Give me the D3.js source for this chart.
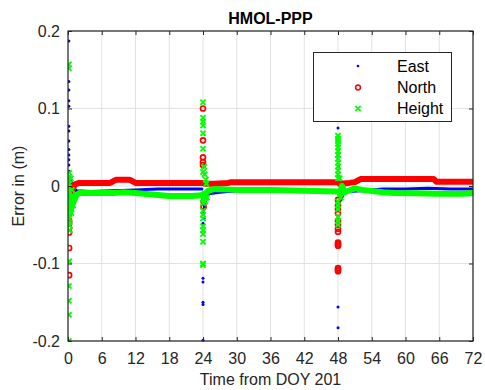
<!DOCTYPE html>
<html><head><meta charset="utf-8">
<script src="https://cdn.jsdelivr.net/npm/d3@7"></script>
<style>
body{margin:0;background:#fff;}
text{font-family:"Liberation Sans",Arial,Helvetica,sans-serif;}
</style></head>
<body><svg id="c" width="485" height="390"></svg>
<script>
// ---- data ----
const xTicks = [0,6,12,18,24,30,36,42,48,54,60,66,72];
const yTicks = [-0.2,-0.1,0,0.1,0.2];
const yTickLabels = ["-0.2","-0.1","0","0.1","0.2"];
const seriesNames = ["East","North","Height"];

// converged bands [hour, error m]; null breaks the band at re-initialisation
const eastBand = [
  [0.4,0.01],[0.8,-0.003],[1.5,-0.006],[4,-0.007],[8,-0.006],[12,-0.005],[16,-0.004],[20,-0.004],[23.8,-0.004],
  null,
  [24.2,-0.03],[24.5,-0.015],[25,-0.01],[26,-0.009],[27,-0.008],[30,-0.006],[36,-0.006],[42,-0.006],[47.8,-0.007],
  null,
  [48.3,-0.02],[49,-0.01],[50,-0.007],[52,-0.006],[56,-0.004],[60,-0.004],[64,-0.003],[68,-0.004],[72,-0.004]
];
const northBand = [
  [0.5,-0.02],[0.8,-0.005],[1.2,0.002],[2,0.004],[7.5,0.004],[8.5,0.008],[11,0.008],[12,0.004],[23.8,0.004],
  null,
  [24.3,0.003],[26,0.003],[28.5,0.004],[29,0.005],[47.8,0.005],
  null,
  [48.3,0.003],[50,0.004],[51,0.005],[52,0.009],[65,0.009],[65.5,0.0055],[72,0.0055]
];
const heightBand = [
  [0.5,-0.03],[1,-0.02],[1.5,-0.012],[2,-0.009],[5,-0.009],[8,-0.009],[10,-0.008],[12,-0.009],[15,-0.011],[18,-0.013],[22,-0.013],[23.8,-0.012],
  null,
  [24.3,-0.01],[25,-0.006],[26,-0.004],[30,-0.005],[36,-0.005],[42,-0.006],[47.8,-0.007],
  null,
  [48.3,-0.01],[48.7,0.0],[49.2,-0.008],[51,-0.003],[52.3,-0.005],[56,-0.008],[58,-0.009],[62,-0.0095],[66,-0.010],[70,-0.010],[72,-0.009]
];

// outlier epochs around each re-initialisation [hour, error m]
const eastSpikes = [
  [0.15,0.187],[0.15,0.135],[0.15,0.124],[0.15,0.110],[0.15,0.103],[0.15,0.077],[0.15,0.071],[0.15,0.058],
  [0.15,0.047],[0.15,0.040],[0.15,0.034],[0.15,0.027],[0.2,0.019],[0.3,0.012],
  [24.0,-0.048],[24.0,-0.119],[24.0,-0.124],[24.0,-0.150],[24.0,-0.153],[24.0,-0.199],[24.1,-0.035],[24.2,-0.042],
  [48.0,0.075],[48.0,0.059],[48.0,0.040],[48.1,0.025],[48.0,-0.156],[48.0,-0.183],[48.6,-0.01]
];
const northSpikes = [
  [0.2,-0.015],[0.2,-0.025],[0.2,-0.035],[0.2,-0.045],[0.2,-0.048],[0.2,-0.054],[0.2,-0.060],[0.2,-0.080],[0.2,-0.115],[0.3,-0.005],
  [24.0,0.100],[24.0,0.059],[24.0,0.037],[24.0,0.031],[24.0,0.027],[24.1,-0.020],[24.1,-0.027],
  [48.0,-0.018],[48.0,-0.025],[48.0,-0.030],[48.0,-0.035],[48.0,-0.045],[48.0,-0.050],[48.0,-0.055],[48.0,-0.059],
  [48.0,-0.073],[48.0,-0.075],[48.0,-0.077],[48.0,-0.106],[48.0,-0.108],[48.0,-0.110]
];
const heightSpikes = [
  [0.15,0.157],[0.15,0.152],[0.2,0.017],[0.2,0.012],[0.2,0.008],[0.2,0.003],[0.2,-0.002],[0.2,-0.007],[0.2,-0.012],
  [0.2,-0.017],[0.2,-0.022],[0.2,-0.027],[0.2,-0.032],[0.2,-0.037],[0.2,-0.042],[0.2,-0.047],[0.2,-0.05],
  [0.3,-0.057],[0.2,-0.097],[0.15,-0.129],[0.15,-0.148],[0.15,-0.166],[0.15,-0.2],
  [0.5,0.01],[0.7,-0.005],[0.9,-0.025],[1.1,-0.015],[0.6,-0.035],[0.4,-0.02],[0.8,-0.012],
  [24.0,0.108],[24.0,0.088],[24.0,0.083],[24.0,0.078],[24.0,0.068],
  [24.0,0.048],[24.0,0.018],
  [24.0,-0.012],[24.0,-0.017],[24.0,-0.022],[24.0,-0.032],[24.0,-0.037],[24.0,-0.042],[24.0,-0.052],[24.0,-0.057],
  [24.0,-0.062],[24.0,-0.072],[24.0,-0.100],[24.0,-0.102],
  [24.3,0.015],[24.5,0.008],[24.4,-0.02],[24.7,-0.015],[24.2,0.025],[24.3,-0.01],[24.6,0.003],
  [48.0,0.065],[48.0,0.061],[48.0,0.058],[48.0,0.054],[48.0,0.050],[48.0,0.045],[48.0,0.040],[48.0,0.035],[48.0,0.030],
  [48.0,0.025],[48.0,0.020],[48.0,0.015],[48.0,0.010],
  [48.0,-0.020],[48.0,-0.025],[48.0,-0.030],[48.0,-0.040],[48.0,-0.045],[48.0,-0.050],[48.3,0.01],[48.5,-0.015]
];

// ---- drawing ----
const svg = d3.select("#c");
const L=68, R=473, T=31, B=341;
const x = d3.scaleLinear([0,72],[L,R]);
const y = d3.scaleLinear([-0.2,0.2],[B,T]);
const ink = "#262626";

// grid
const g = svg.append("g");
g.selectAll("line.gx").data(xTicks).join("line")
  .attr("x1",d=>x(d)).attr("x2",d=>x(d)).attr("y1",T).attr("y2",B)
  .attr("stroke","#e2e2e2").attr("stroke-width",1);
g.selectAll("line.gy").data(yTicks).join("line")
  .attr("y1",d=>y(d)).attr("y2",d=>y(d)).attr("x1",L).attr("x2",R)
  .attr("stroke","#e2e2e2").attr("stroke-width",1);

svg.append("clipPath").attr("id","clip").append("rect")
  .attr("x",L).attr("y",T-2).attr("width",R-L).attr("height",B-T+3);
const plot = svg.append("g").attr("clip-path","url(#clip)");

const line = d3.line().defined(d=>d!==null).x(d=>x(d[0])).y(d=>y(d[1]));

function band(data,color,w){
  plot.append("path").datum(data).attr("d",line)
    .attr("fill","none").attr("stroke",color).attr("stroke-width",w)
    .attr("stroke-linejoin","round").attr("stroke-linecap","round");
}
function dots(data,color){
  plot.append("g").selectAll("circle").data(data).join("circle")
    .attr("cx",d=>x(d[0])).attr("cy",d=>y(d[1])).attr("r",1.5).attr("fill",color);
}
function rings(data,color){
  plot.append("g").selectAll("circle").data(data).join("circle")
    .attr("cx",d=>x(d[0])).attr("cy",d=>y(d[1])).attr("r",2.5)
    .attr("fill","none").attr("stroke",color).attr("stroke-width",1.7);
}
const S=2.6;
function crossPath(cx,cy){return `M${cx-S},${cy-S}L${cx+S},${cy+S}M${cx-S},${cy+S}L${cx+S},${cy-S}`;}
function crosses(data,color){
  plot.append("g").selectAll("path").data(data).join("path")
    .attr("d",d=>crossPath(x(d[0]),y(d[1])))
    .attr("stroke",color).attr("stroke-width",1.9).attr("fill","none");
}

const BLUE="#0000ff", RED="#ff0000", GREEN="#00ff00";
band(eastBand,BLUE,3); dots(eastSpikes,BLUE);
band(northBand,RED,6); rings(northSpikes,RED);
band(heightBand,GREEN,6); crosses(heightSpikes,GREEN);

// axes
const ax = svg.append("g").attr("color",ink);
const fs = "16px";
const xb = ax.append("g").attr("transform",`translate(0,${B})`)
  .call(d3.axisBottom(x).tickValues(xTicks).tickSizeInner(-4).tickSizeOuter(0).tickPadding(12).tickFormat(d3.format("d")));
const xt = ax.append("g").attr("transform",`translate(0,${T})`)
  .call(d3.axisTop(x).tickValues(xTicks).tickSizeInner(-4).tickSizeOuter(0).tickFormat(""));
const yl = ax.append("g").attr("transform",`translate(${L},0)`)
  .call(d3.axisLeft(y).tickValues(yTicks).tickSizeInner(-4).tickSizeOuter(0).tickPadding(8)
    .tickFormat((d,i)=>yTickLabels[i]));
const yr = ax.append("g").attr("transform",`translate(${R},0)`)
  .call(d3.axisRight(y).tickValues(yTicks).tickSizeInner(-4).tickSizeOuter(0).tickFormat(""));
[xb,xt,yl,yr].forEach(a=>{
  a.selectAll("text").style("font-size",fs).attr("fill",ink);
  a.select(".domain").remove();
});
ax.append("rect").attr("x",L).attr("y",T).attr("width",R-L).attr("height",B-T)
  .attr("fill","none").attr("stroke",ink).attr("stroke-width",1.2);

// titles
svg.append("text").attr("x",(L+R)/2).attr("y",24).attr("text-anchor","middle")
  .style("font-size","16px").style("font-weight","bold").attr("fill","#000").text("HMOL-PPP");
svg.append("text").attr("x",(L+R)/2).attr("y",385).attr("text-anchor","middle")
  .style("font-size","16px").attr("fill",ink).text("Time from DOY 201");
svg.append("text").attr("transform",`translate(24,${(T+B)/2}) rotate(-90)`).attr("text-anchor","middle")
  .style("font-size","16px").attr("fill",ink).text("Error in (m)");

// legend
const lg = svg.append("g");
lg.append("rect").attr("x",313.5).attr("y",52.5).attr("width",138).attr("height",69)
  .attr("fill","#fff").attr("stroke",ink).attr("stroke-width",1);
const rowsY = [66,87.5,108.5];
const mx = 358;
lg.append("circle").attr("cx",mx).attr("cy",rowsY[0]).attr("r",1.3).attr("fill",BLUE);
lg.append("circle").attr("cx",mx).attr("cy",rowsY[1]).attr("r",2.4).attr("fill","none").attr("stroke",RED).attr("stroke-width",1.5);
lg.append("path").attr("d",crossPath(mx,rowsY[2]))
  .attr("stroke",GREEN).attr("stroke-width",1.6);
lg.selectAll("text").data(seriesNames).join("text")
  .attr("x",397).attr("y",(d,i)=>rowsY[i]).attr("dy","0.35em")
  .style("font-size","16px").attr("fill","#000").text(d=>d);
</script></body></html>
